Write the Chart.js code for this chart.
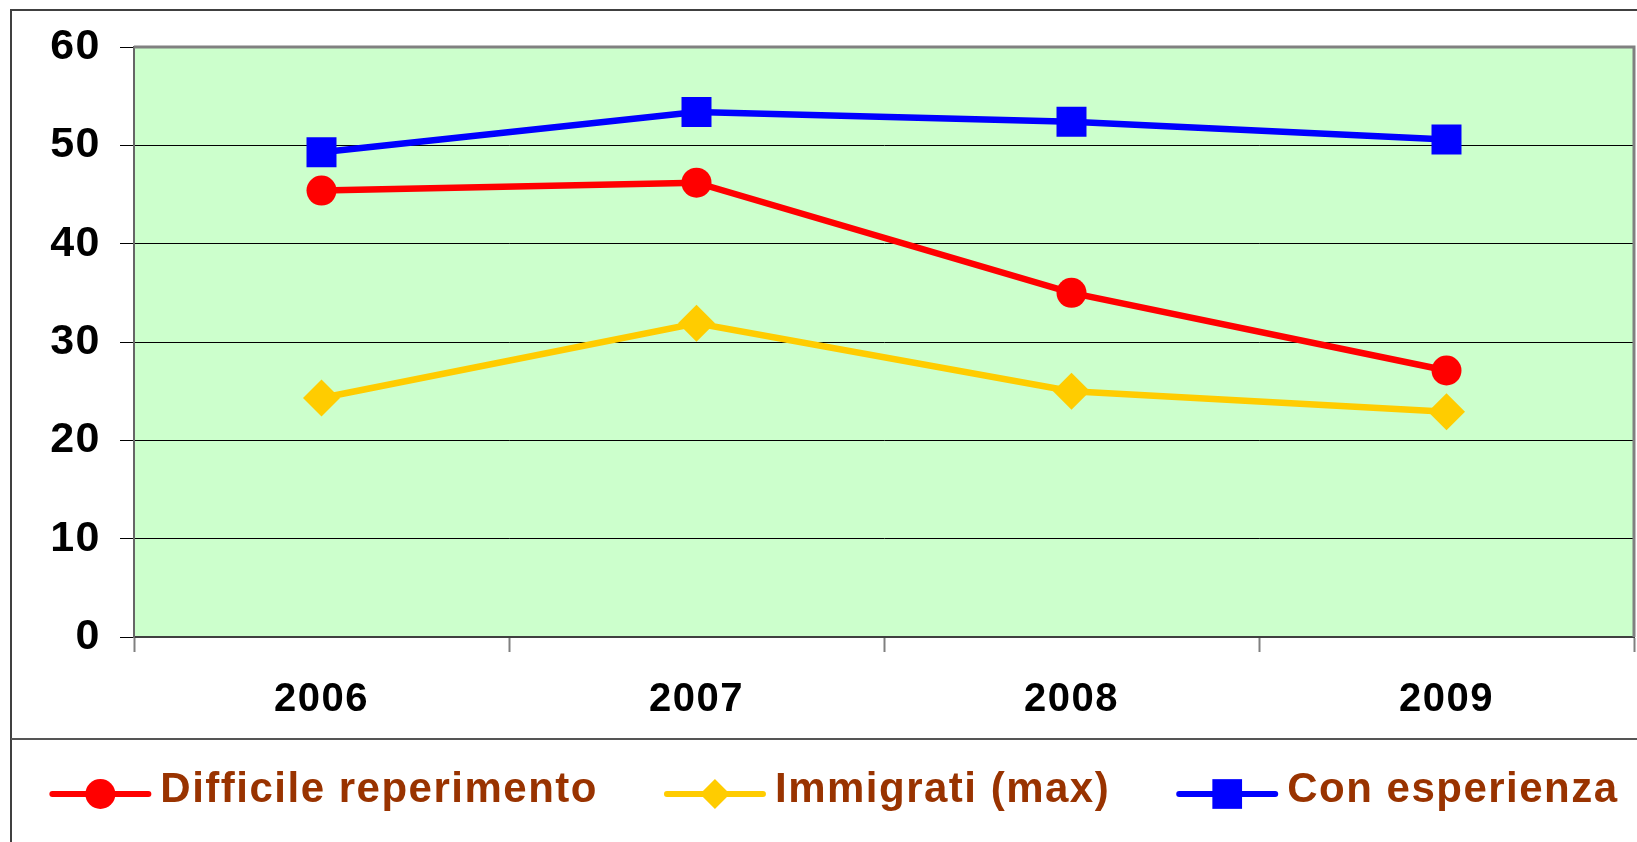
<!DOCTYPE html>
<html>
<head>
<meta charset="utf-8">
<title>Difficile reperimento, immigrati, esperienza 2006-2009</title>
<script src="https://cdn.jsdelivr.net/npm/chart.js@4.4.1/dist/chart.umd.min.js"></script>
<style>
  html, body { margin: 0; padding: 0; background: #fff; }
  canvas { display: block; }
</style>
</head>
<body>
<canvas id="chart" width="1637" height="842"></canvas>
<script>
// data
const years = ['2006', '2007', '2008', '2009'];
const difficile = [45.4, 46.2, 35.0, 27.1];
const immigrati = [24.3, 31.9, 25.0, 22.9];
const esperienza = [49.3, 53.4, 52.4, 50.6];
const yTicks = [0, 10, 20, 30, 40, 50, 60];

const FONT = '"Liberation Sans", Arial, sans-serif';
const SPACING = '1.5px';
const legendRadius = [15, 15, 21];

// the old excel text is a bit wider than arial, so add some letter spacing
const spacing = {
  id: 'spacing',
  beforeUpdate(chart) { chart.ctx.letterSpacing = SPACING; },
  beforeDraw(chart) {
    const { ctx, chartArea: a } = chart;
    ctx.letterSpacing = SPACING;
    ctx.save();
    ctx.fillStyle = '#CCFFCC';
    ctx.fillRect(a.left, a.top, a.right - a.left, a.bottom - a.top);
    ctx.restore();
  }
};

// grey frame of the plot area (top and right side)
const plotBorder = {
  id: 'plotBorder',
  beforeDatasetsDraw(chart) {
    const { ctx, chartArea: a } = chart;
    ctx.save();
    ctx.strokeStyle = '#808080';
    ctx.lineWidth = 3;
    ctx.beginPath();
    ctx.moveTo(a.left, a.top);
    ctx.lineTo(a.right, a.top);
    ctx.lineTo(a.right, a.bottom);
    ctx.stroke();
    ctx.restore();
  }
};

// legend with line + marker, like the excel one
const lineLegend = {
  id: 'lineLegend',
  afterDraw(chart) {
    const ctx = chart.ctx;
    const y = 794, lineLen = 102, textGap = 9, itemGap = 66;
    ctx.save();
    ctx.font = 'bold 42px ' + FONT;
    ctx.letterSpacing = SPACING;
    const items = chart.data.datasets.map((ds, i) => ({ ds, r: legendRadius[i], w: ctx.measureText(ds.label).width }));
    const total = items.reduce((s, it) => s + lineLen + textGap + it.w, 0) + itemGap * (items.length - 1);
    let x = 834 - total / 2;
    items.forEach(({ ds, r, w }) => {
      ctx.strokeStyle = ds.borderColor;
      ctx.lineWidth = 6;
      ctx.lineCap = 'round';
      ctx.beginPath();
      ctx.moveTo(x + 3, y);
      ctx.lineTo(x + lineLen - 3, y);
      ctx.stroke();
      ctx.fillStyle = ds.pointBackgroundColor;
      Chart.helpers.drawPoint(ctx, { pointStyle: ds.pointStyle, radius: r, borderWidth: 0, rotation: 0 }, x + lineLen / 2, y);
      ctx.fillStyle = '#993300';
      ctx.textBaseline = 'alphabetic';
      ctx.textAlign = 'left';
      ctx.fillText(ds.label, x + lineLen + textGap, y + 8);
      x += lineLen + textGap + w + itemGap;
    });
    ctx.restore();
  }
};

// outer frame and the line above the legend
const frame = {
  id: 'frame',
  afterDraw(chart) {
    const ctx = chart.ctx;
    ctx.save();
    ctx.strokeStyle = '#404040';
    ctx.lineWidth = 2;
    ctx.beginPath();
    ctx.moveTo(11, 842);
    ctx.lineTo(11, 10);
    ctx.lineTo(1637, 10);
    ctx.stroke();
    ctx.strokeStyle = '#555555';
    ctx.beginPath();
    ctx.moveTo(11, 739);
    ctx.lineTo(1637, 739);
    ctx.stroke();
    ctx.restore();
  }
};

new Chart(document.getElementById('chart'), {
  type: 'line',
  data: {
    labels: years,
    datasets: [
      {
        label: 'Difficile reperimento', data: difficile,
        borderColor: '#FF0000', backgroundColor: '#FF0000', pointBackgroundColor: '#FF0000',
        pointStyle: 'circle', pointRadius: 15, pointBorderWidth: 0, borderWidth: 6.5
      },
      {
        label: 'Immigrati (max)', data: immigrati,
        borderColor: '#FFCC00', backgroundColor: '#FFCC00', pointBackgroundColor: '#FFCC00',
        pointStyle: 'rectRot', pointRadius: 18.5, pointBorderWidth: 0, borderWidth: 6.5
      },
      {
        label: 'Con esperienza', data: esperienza,
        borderColor: '#0000FF', backgroundColor: '#0000FF', pointBackgroundColor: '#0000FF',
        pointStyle: 'rect', pointRadius: 21.2, pointBorderWidth: 0, borderWidth: 6.5
      }
    ]
  },
  options: {
    responsive: false,
    animation: false,
    events: [],
    layout: { autoPadding: false, padding: { left: 12, top: 47, right: 3, bottom: 104 } },
    plugins: {
      legend: { display: false },
      tooltip: { enabled: false }
    },
    scales: {
      x: {
        offset: true,
        afterFit: s => { s.height = 101; },
        grid: { offset: true, drawOnChartArea: false, tickLength: 15, tickColor: '#808080', tickWidth: 2 },
        border: { display: true, color: '#404040', width: 2 },
        ticks: { color: '#000', padding: 24, font: { family: FONT, size: 40, weight: 'bold' } }
      },
      y: {
        min: 0,
        max: 60,
        afterFit: s => { s.width = 122; },
        afterBuildTicks: s => { s.ticks = yTicks.map(v => ({ value: v })); },
        grid: { color: '#000', lineWidth: 1, tickLength: 14 },
        border: { display: true, color: '#666666', width: 2 },
        ticks: { color: '#000', padding: 19, font: { family: FONT, size: 43, weight: 'bold' } }
      }
    }
  },
  plugins: [spacing, plotBorder, lineLegend, frame]
});
</script>
</body>
</html>
